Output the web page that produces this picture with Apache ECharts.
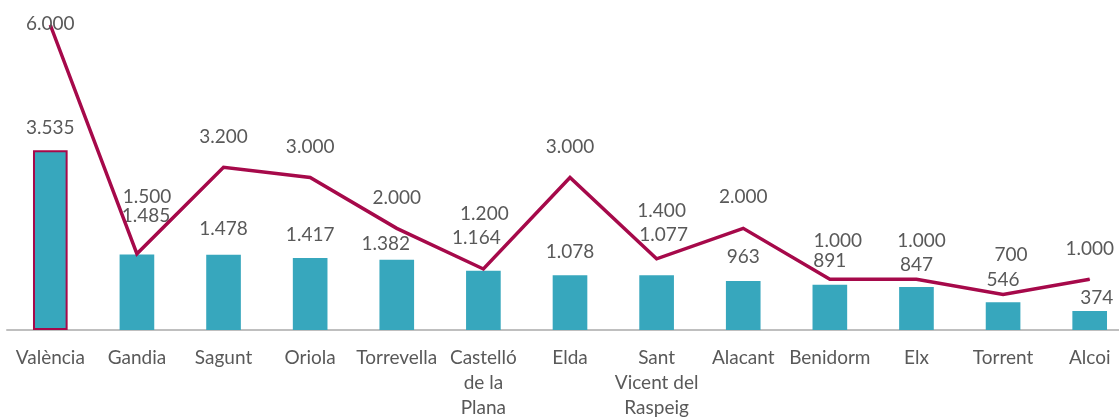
<!DOCTYPE html>
<html><head><meta charset="utf-8">
<script src="https://cdn.jsdelivr.net/npm/echarts@6/dist/echarts.min.js"></script>
<style>html,body{margin:0;padding:0;background:#fff}#c{width:1119px;height:418px}</style>
</head><body><div id="c"></div>
<script>
const categories = ['València','Gandia','Sagunt','Oriola','Torrevella','Castelló\nde la\nPlana','Elda','Sant\nVicent del\nRaspeig','Alacant','Benidorm','Elx','Torrent','Alcoi'];
const barValues = [3535,1485,1478,1417,1382,1164,1078,1077,963,891,847,546,374];
const lineValues = [6000,1500,3200,3000,2000,1200,3000,1400,2000,1000,1000,700,1000];

// label placement tweaks (styling, separate from data)
const barDist  = [13,29,16,14,6,23,14,31,15,14,13,13,4];
const barDx    = [0,9,0,0,-11,-7,0,7,0,0,0,0,7];
const lineDist = [-9,47,20,21,20,45,21,38,21,28,28,30,20];
const lineDx   = [0,10,0,0,0,1,0,5,0,8,5,8,0];

const fmt = v => String(v).replace(/\B(?=(\d{3})+(?!\d))/g, '.');
const txt = '#595959';
const font = 'Lato';
const fs = 19;

const barData = barValues.map((v,i)=>({
  value:v,
  itemStyle: i===0 ? {borderColor:'#A6094A', borderWidth:2} : undefined,
  label:{distance:barDist[i]}
}));
const lineData = lineValues.map((v,i)=>({
  value:v,
  label:{distance:lineDist[i]}
}));

const chart = echarts.init(document.getElementById('c'), null, {renderer:'canvas'});
chart.setOption({
  animation:false,
  grid:{left:7, right:-14, top:25, bottom:88, containLabel:false, outerBoundsMode:'none'},
  xAxis:{
    type:'category', data:categories,
    axisLine:{lineStyle:{color:'#BFBFBF', width:2}},
    axisTick:{show:false},
    axisLabel:{color:txt, fontFamily:font, fontSize:fs, lineHeight:25, margin:15, interval:0}
  },
  yAxis:{type:'value', min:0, max:6000, show:false, splitLine:{show:false}},
  series:[
    {type:'bar', data:barData, barWidth:'40%', itemStyle:{color:'#37A7BD'}, z:2,
     labelLayout:p=>({dx:barDx[p.dataIndex], hideOverlap:false}),
     label:{show:true, position:'top', color:txt, fontFamily:font, fontSize:fs, formatter:p=>fmt(p.value)}},
    {type:'line', data:lineData, symbol:'circle', symbolSize:1, showSymbol:true, z:3,
     itemStyle:{color:'#A6094A'},
     lineStyle:{color:'#A6094A', width:3.5, join:'miter'},
     labelLayout:p=>({dx:lineDx[p.dataIndex], hideOverlap:false}),
     label:{show:true, position:'top', color:txt, fontFamily:font, fontSize:fs, formatter:p=>fmt(p.value)}}
  ]
});
</script></body></html>
